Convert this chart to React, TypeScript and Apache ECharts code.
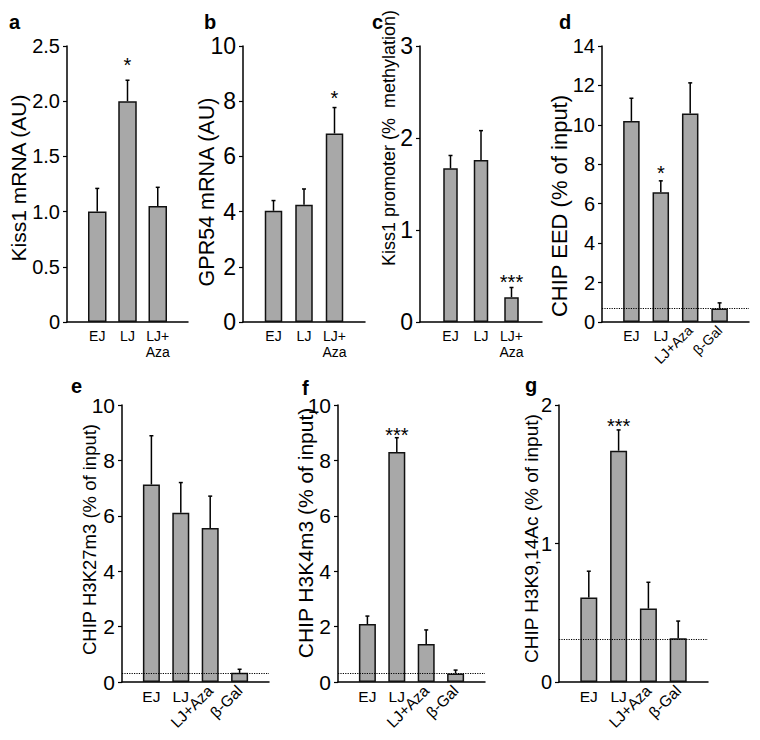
import React, { useEffect, useRef } from "react";
import * as echarts from "echarts";

// ---------- data ----------
const catsTop = ["EJ", "LJ", "LJ+\nAza"];
const catsBottom = ["EJ", "LJ", "LJ+Aza", "β-Gal"];
const rotatedCats = ["LJ+Aza", "β-Gal"];

const aName = "Kiss1 mRNA (AU)";
const aValues = [1.0, 2.0, 1.05];
const aErrors = [1.21, 2.19, 1.22];
const aStars = ["", "*", ""];
const aTicks = [0, 0.5, 1.0, 1.5, 2.0, 2.5];

const bName = "GPR54 mRNA (AU)";
const bValues = [4.03, 4.25, 6.83];
const bErrors = [4.4, 4.82, 7.77];
const bStars = ["", "", "*"];
const bTicks = [0, 2, 4, 6, 8, 10];

const cName = "Kiss1 promoter (%  methylation)";
const cValues = [1.67, 1.76, 0.27];
const cErrors = [1.81, 2.08, 0.375];
const cStars = ["", "", "***"];
const cTicks = [0, 1, 2, 3];

const dName = "CHIP EED (% of input)";
const dValues = [10.2, 6.58, 10.57, 0.68];
const dErrors = [11.35, 7.16, 12.13, 0.97];
const dStars = ["", "*", "", ""];
const dTicks = [0, 2, 4, 6, 8, 10, 12, 14];
const dBaseline = 0.68;

const eName = "CHIP H3K27m3 (% of input)";
const eValues = [7.13, 6.11, 5.56, 0.33];
const eErrors = [8.89, 7.2, 6.71, 0.46];
const eStars = ["", "", "", ""];
const eTicks = [0, 2, 4, 6, 8, 10];
const eBaseline = 0.3;

const fName = "CHIP H3K4m3 (% of input)";
const fValues = [2.09, 8.3, 1.37, 0.31];
const fErrors = [2.38, 8.82, 1.88, 0.43];
const fStars = ["", "***", "", ""];
const fTicks = [0, 2, 4, 6, 8, 10];
const fBaseline = 0.31;

const gName = "CHIP H3K9,14Ac (% of input)";
const gValues = [0.61, 1.67, 0.53, 0.315];
const gErrors = [0.8, 1.82, 0.72, 0.44];
const gStars = ["", "***", "", ""];
const gTicks = [0, 1, 2];
const gBaseline = 0.31;

// ---------- layout ----------
const FONT = "'Liberation Sans', Arial, Helvetica, sans-serif";

const panels = [
  { letter: "a", letterPos: [9, 28], grid: { left: 67, top: 46, width: 121, height: 276 }, cats: catsTop, name: aName, values: aValues, errors: aErrors, stars: aStars, ticks: aTicks, baseline: null, namePos: [18.5, 178], nameSize: 21, tickSize: 20, catSize: 14, barWidth: 18.5, starGap: 20, decimals: 1 },
  { letter: "b", letterPos: [204, 28], grid: { left: 243, top: 46, width: 122, height: 276 }, cats: catsTop, name: bName, values: bValues, errors: bErrors, stars: bStars, ticks: bTicks, baseline: null, namePos: [206.5, 192], nameSize: 21.5, tickSize: 23, catSize: 14, barWidth: 17.5, starGap: 14.5, decimals: 0 },
  { letter: "c", letterPos: [372, 28], grid: { left: 420, top: 46, width: 122, height: 276 }, cats: catsTop, name: cName, values: cValues, errors: cErrors, stars: cStars, ticks: cTicks, baseline: null, namePos: [388.5, 138], nameSize: 18, tickSize: 23, catSize: 14, barWidth: 14.5, starGap: 10.6, decimals: 0 },
  { letter: "d", letterPos: [559, 28], grid: { left: 602, top: 46, width: 147, height: 276 }, cats: catsBottom, name: dName, values: dValues, errors: dErrors, stars: dStars, ticks: dTicks, baseline: dBaseline, namePos: [559.5, 206], nameSize: 22, tickSize: 20, catSize: 14, barWidth: 16.5, starGap: 12.5, decimals: 0 },
  { letter: "e", letterPos: [71, 392], grid: { left: 122, top: 405, width: 147, height: 277 }, cats: catsBottom, name: eName, values: eValues, errors: eErrors, stars: eStars, ticks: eTicks, baseline: eBaseline, namePos: [89.5, 539.5], nameSize: 18.5, tickSize: 21, catSize: 15.5, barWidth: 17, starGap: 10, decimals: 0 },
  { letter: "f", letterPos: [302, 394], grid: { left: 338, top: 405, width: 147, height: 277 }, cats: catsBottom, name: fName, values: fValues, errors: fErrors, stars: fStars, ticks: fTicks, baseline: fBaseline, namePos: [305, 533], nameSize: 21, tickSize: 21, catSize: 15.5, barWidth: 17, starGap: 8, decimals: 0 },
  { letter: "g", letterPos: [525, 391], grid: { left: 559, top: 405, width: 149, height: 277 }, cats: catsBottom, name: gName, values: gValues, errors: gErrors, stars: gStars, ticks: gTicks, baseline: gBaseline, namePos: [531.5, 538.6], nameSize: 19, tickSize: 20, catSize: 15.5, barWidth: 17, starGap: 8.5, decimals: 0 },
];

function buildOption() {
  const grid: any[] = [];
  const xAxis: any[] = [];
  const yAxis: any[] = [];
  const series: any[] = [];
  const graphic: any[] = [];

  panels.forEach((p, i) => {
    grid.push({ ...p.grid, containLabel: false });
    const n = p.cats.length;
    const common = {
      type: "value",
      gridIndex: i,
      min: -1,
      max: n,
      interval: 1,
      position: "bottom",
      splitLine: { show: false },
      axisTick: { show: false },
    };
    xAxis.push({
      ...common,
      axisLine: { show: true, onZero: false, lineStyle: { color: "#000", width: 1.5 } },
      axisLabel: {
        show: true,
        margin: 6,
        fontSize: p.catSize,
        fontFamily: FONT,
        color: "#000",
        lineHeight: p.catSize + 2,
        showMinLabel: true,
        showMaxLabel: true,
        formatter: (v: number) => {
          const c = p.cats[v];
          if (c === undefined || rotatedCats.includes(c)) return "";
          return c;
        },
      },
    });
    xAxis.push({
      ...common,
      axisLine: { show: false, onZero: false },
      axisLabel: {
        show: true,
        rotate: 45,
        margin: 6,
        fontSize: p.catSize,
        fontFamily: FONT,
        color: "#000",
        showMinLabel: true,
        showMaxLabel: true,
        formatter: (v: number) => {
          const c = p.cats[v];
          if (c === undefined || !rotatedCats.includes(c)) return "";
          return c;
        },
      },
    });
    const t = p.ticks;
    yAxis.push({
      type: "value",
      gridIndex: i,
      position: "left",
      min: t[0],
      max: t[t.length - 1],
      interval: t[1] - t[0],
      splitLine: { show: false },
      axisLine: { show: true, onZero: false, lineStyle: { color: "#000", width: 1.5 } },
      axisTick: { show: true, length: 4, lineStyle: { color: "#000", width: 1.2 } },
      axisLabel: {
        margin: 7,
        fontSize: p.tickSize,
        fontFamily: FONT,
        color: "#000",
        formatter: (v: number) => (v === 0 ? "0" : v.toFixed(p.decimals)),
      },
    });

    const barSeries: any = {
      type: "bar",
      xAxisIndex: i * 2,
      yAxisIndex: i,
      barWidth: p.barWidth,
      data: p.values.map((v, j) => [j, v]),
      itemStyle: { color: "#a8a8a8", borderColor: "#111", borderWidth: 1.5 },
      z: 3,
    };
    if (p.baseline !== null) {
      barSeries.markLine = {
        silent: true,
        symbol: ["none", "none"],
        label: { show: false },
        lineStyle: { type: "dotted", color: "#000", width: 1.2 },
        data: [{ yAxis: p.baseline }],
        z: 5,
      };
    }
    series.push(barSeries);

    series.push({
      type: "custom",
      xAxisIndex: i * 2,
      yAxisIndex: i,
      z: 4,
      data: p.values.map((v, j) => [j, v, p.errors[j]]),
      renderItem: (params: any, api: any) => {
        const x = api.value(0);
        const v = api.value(1);
        const e = api.value(2);
        const p0 = api.coord([x, v]);
        const p1 = api.coord([x, e]);
        const children: any[] = [
          { type: "line", shape: { x1: p0[0], y1: p0[1], x2: p1[0], y2: p1[1] }, style: { stroke: "#000", lineWidth: 1.5 } },
          { type: "line", shape: { x1: p1[0] - 2, y1: p1[1], x2: p1[0] + 2, y2: p1[1] }, style: { stroke: "#000", lineWidth: 1.5 } },
        ];
        const s = p.stars[params.dataIndex];
        if (s) {
          children.push({
            type: "text",
            x: p1[0],
            y: p1[1] - p.starGap + 5,
            style: { text: s, fontSize: 20, fontFamily: FONT, fill: "#000", align: "center", verticalAlign: "middle" },
          });
        }
        return { type: "group", children };
      },
    });

    graphic.push({
      type: "text",
      x: p.namePos[0],
      y: p.namePos[1],
      rotation: Math.PI / 2,
      style: { text: p.name, fontSize: p.nameSize, fontFamily: FONT, fill: "#000", align: "center", verticalAlign: "middle", textAlign: "center", textVerticalAlign: "middle" },
    });
    graphic.push({
      type: "text",
      x: p.letterPos[0],
      y: p.letterPos[1] + 4,
      style: { text: p.letter, fontSize: 20, fontWeight: "bold", fontFamily: FONT, fill: "#000", align: "left", verticalAlign: "bottom", textAlign: "left", textVerticalAlign: "bottom" },
    });
  });

  return { animation: false, backgroundColor: "#fff", grid, xAxis, yAxis, series, graphic };
}

export default function App() {
  const ref = useRef<HTMLDivElement>(null);
  useEffect(() => {
    if (!ref.current) return;
    const chart = echarts.init(ref.current, undefined, { renderer: "svg" });
    chart.setOption(buildOption() as any);
    return () => chart.dispose();
  }, []);
  return (
    <div
      ref={ref}
      style={{ position: "absolute", left: 0, top: 0, width: 760, height: 740, background: "#fff" }}
    />
  );
}
